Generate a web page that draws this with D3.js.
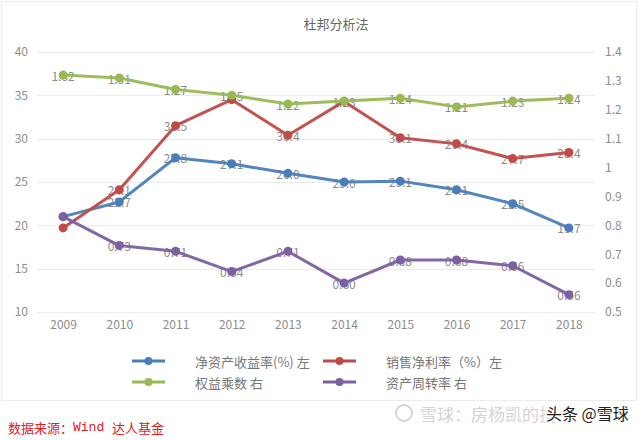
<!DOCTYPE html>
<html>
<head>
<meta charset="utf-8">
<title>杜邦分析法</title>
<script src="https://cdn.jsdelivr.net/npm/d3@7"></script>
<style>
	html, body { margin: 0; padding: 0; background: #fff; }
	#graph { display: block; font-family: "Noto Sans CJK SC", "Noto Sans", sans-serif; }
</style>
</head>
<body>
<svg id="graph" width="640" height="440"></svg>
<script>
	// chart data
	const years = ['2009', '2010', '2011', '2012', '2013', '2014', '2015', '2016', '2017', '2018'];
	const roe = [21.0, 22.7, 27.8, 27.1, 26.0, 25.0, 25.1, 24.1, 22.5, 19.7];          // 净资产收益率 (left)
	const netMargin = [19.7, 24.1, 31.5, 34.5, 30.4, 34.3, 30.1, 29.4, 27.7, 28.4];    // 销售净利率 (left)
	const equityMultiplier = [1.32, 1.31, 1.27, 1.25, 1.22, 1.23, 1.24, 1.21, 1.23, 1.24]; // 权益乘数 (right)
	const assetTurnover = [0.83, 0.73, 0.71, 0.64, 0.71, 0.60, 0.68, 0.68, 0.66, 0.56];   // 资产周转率 (right)
	const leftTicks = [10, 15, 20, 25, 30, 35, 40];
	const rightTicks = [0.5, 0.6, 0.7, 0.8, 0.9, 1.0, 1.1, 1.2, 1.3, 1.4];
	const seriesNames = ['净资产收益率(%) 左', '销售净利率（%）左', '权益乘数 右', '资产周转率 右'];
	// points whose data label is not shown in the original (index into years)
	const hiddenLabels = [[0], [0, 3, 5], [], [0]];

;(() => {
	'use strict';

	const svg = d3.select('#graph'),
		left = 35,
		right = 597,
		top = 52,
		bottom = 312,
		labelColor = '#8c8c8c';

	const x = d3.scalePoint().domain(years).range([left, right]).padding(0.5),
		yLeft = d3.scaleLinear().domain([10, 40]).range([bottom, top]),
		yRight = d3.scaleLinear().domain([0.5, 1.4]).range([bottom, top]);

	// series in drawing order (legend order)
	const series = [
		{ name: seriesNames[0], values: roe, scale: yLeft, color: '#4a7ebb', fmt: d3.format('.1f') },
		{ name: seriesNames[1], values: netMargin, scale: yLeft, color: '#be4b48', fmt: d3.format('.1f') },
		{ name: seriesNames[2], values: equityMultiplier, scale: yRight, color: '#98b954', fmt: d3.format('.2f') },
		{ name: seriesNames[3], values: assetTurnover, scale: yRight, color: '#7d60a0', fmt: d3.format('.2f') }
	];
	series.forEach((s, k) => { s.hidden = hiddenLabels[k]; });

	// faint frame around the chart
	svg.append('rect')
		.attr('x', 1.5).attr('y', 1.5)
		.attr('width', 635).attr('height', 399)
		.attr('fill', 'none')
		.attr('stroke', '#ececec');

	// title
	svg.append('text')
		.attr('x', 336).attr('y', 23)
		.attr('text-anchor', 'middle')
		.attr('dominant-baseline', 'central')
		.attr('font-size', 13)
		.attr('fill', '#666')
		.text('杜邦分析法');

	// gridlines
	svg.append('g')
		.selectAll('line')
		.data(leftTicks)
		.enter()
		.append('line')
		.attr('x1', left + 2).attr('x2', right - 2)
		.attr('y1', (d) => Math.round(yLeft(d)) + 0.5)
		.attr('y2', (d) => Math.round(yLeft(d)) + 0.5)
		.attr('stroke', '#ebebeb');

	/**
	* style an axis: no domain, no tick marks, gray labels
	*/
	const styleAxis = function(g) {
		g.select('.domain').remove();
		g.selectAll('.tick line').remove();
		g.selectAll('.tick text')
			.attr('fill', labelColor)
			.attr('font-size', 12)
			.attr('font-family', '"Noto Sans CJK SC", "Noto Sans", sans-serif');
	};

	svg.append('g')
		.attr('transform', 'translate(28,0)')
		.call(d3.axisLeft(yLeft).tickValues(leftTicks).tickSize(0).tickPadding(0))
		.call(styleAxis);

	svg.append('g')
		.attr('transform', 'translate(605,0)')
		.call(d3.axisRight(yRight).tickValues(rightTicks).tickSize(0).tickPadding(0)
			.tickFormat((d) => String(+d.toFixed(1))))
		.call(styleAxis);

	svg.append('g')
		.attr('transform', 'translate(0,320)')
		.call(d3.axisBottom(x).tickSize(0).tickPadding(0))
		.call(styleAxis);

	// data labels sit centred on the points, under the lines
	series.forEach((s) => {
		const shown = s.values
			.map((v, i) => ({ v: v, i: i }))
			.filter((d) => s.hidden.indexOf(d.i) === -1);

		svg.append('g')
			.selectAll('text')
			.data(shown)
			.enter()
			.append('text')
			.attr('x', (d) => x(years[d.i]))
			.attr('y', (d) => s.scale(d.v))
			.attr('text-anchor', 'middle')
			.attr('dominant-baseline', 'central')
			.attr('font-size', 12)
			.attr('fill', '#8c8c8c')
			.text((d) => s.fmt(d.v));
	});

	// lines and markers
	series.forEach((s) => {
		const line = d3.line()
			.x((d, i) => x(years[i]))
			.y((d) => s.scale(d));

		svg.append('path')
			.datum(s.values)
			.attr('d', line)
			.attr('fill', 'none')
			.attr('stroke', s.color)
			.attr('stroke-width', 3)
			.attr('stroke-linejoin', 'round')
			.attr('opacity', 0.95);

		svg.append('g')
			.selectAll('circle')
			.data(s.values)
			.enter()
			.append('circle')
			.attr('cx', (d, i) => x(years[i]))
			.attr('cy', (d) => s.scale(d))
			.attr('r', 4.5)
			.attr('fill', s.color);
	});

	// legend
	const legendPos = [[132, 361], [323, 361], [132, 382], [323, 382]];
	const legend = svg.append('g')
		.selectAll('g')
		.data(series)
		.enter()
		.append('g')
		.attr('transform', (d, i) => 'translate(' + legendPos[i][0] + ',' + legendPos[i][1] + ')');

	legend.append('line')
		.attr('x1', 0).attr('x2', 33)
		.attr('stroke', (d) => d.color)
		.attr('stroke-width', 3);
	legend.append('circle')
		.attr('cx', 16.5)
		.attr('r', 4)
		.attr('fill', (d) => d.color);
	legend.append('text')
		.attr('x', 63)
		.attr('dominant-baseline', 'central')
		.attr('font-size', 13)
		.attr('fill', '#777')
		.text((d) => d.name);

	// source note
	const source = svg.append('text')
		.attr('x', 8).attr('y', 427)
		.attr('dominant-baseline', 'central')
		.attr('font-size', 13)
		.attr('fill', '#e0201b');
	source.append('tspan').text('数据来源：');
	source.append('tspan')
		.attr('font-family', '"Liberation Mono", "DejaVu Sans Mono", monospace')
		.text('Wind ');
	source.append('tspan').text('达人基金');

	// watermarks
	svg.append('text')
		.attr('x', 420).attr('y', 413)
		.attr('dominant-baseline', 'central')
		.attr('font-size', 17)
		.attr('fill', '#d4d4d4')
		.text('雪球：房杨凯的投');
	svg.append('circle')
		.attr('cx', 404).attr('cy', 413)
		.attr('r', 8)
		.attr('fill', 'none')
		.attr('stroke', '#d4d4d4')
		.attr('stroke-width', 2);
	svg.append('text')
		.attr('x', 546).attr('y', 413)
		.attr('dominant-baseline', 'central')
		.attr('font-size', 16)
		.attr('fill', '#222')
		.attr('stroke', '#fff')
		.attr('stroke-width', 3)
		.attr('paint-order', 'stroke')
		.text('头条 @雪球');
})();
</script>
</body>
</html>
